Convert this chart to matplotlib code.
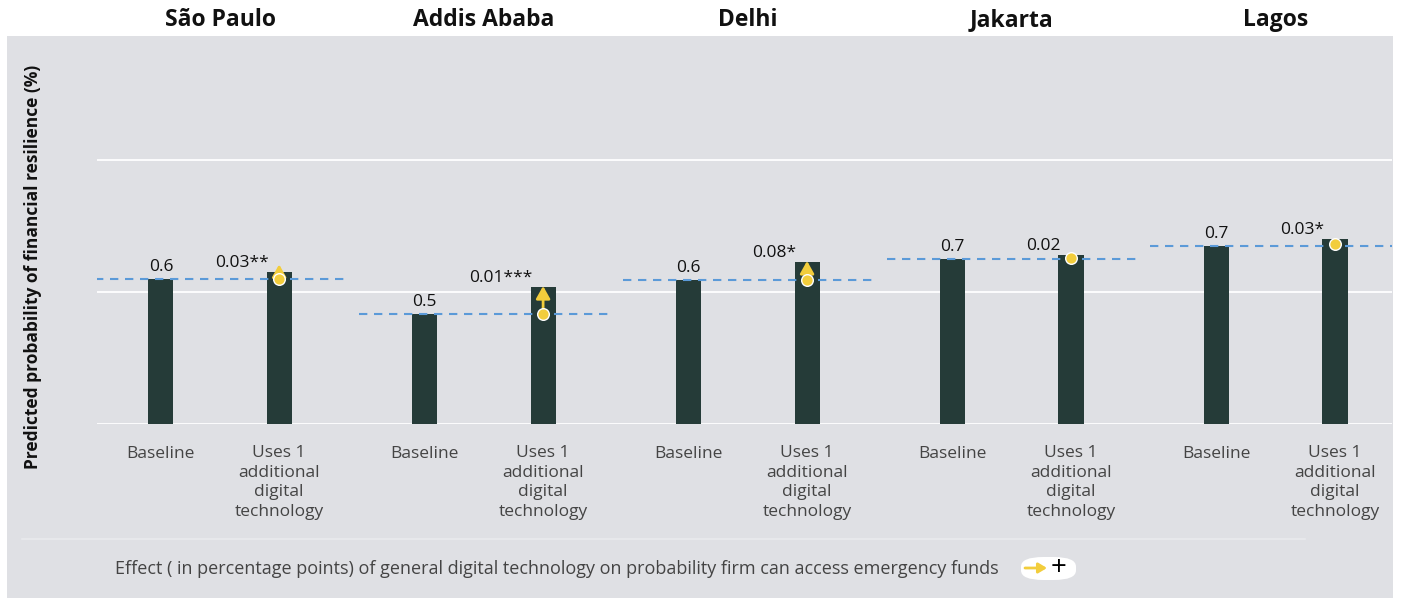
import numpy as np
import matplotlib.pyplot as plt
from matplotlib.patches import Rectangle, FancyBboxPatch
from matplotlib.transforms import blended_transform_factory

plt.rcParams['font.family'] = ['Open Sans', 'DejaVu Sans']

cities = ["São Paulo", "Addis Ababa", "Delhi", "Jakarta", "Lagos"]
baseline = [0.549, 0.417, 0.545, 0.625, 0.674]
with_tech = [0.576, 0.519, 0.614, 0.640, 0.701]
baseline_labels = ["0.6", "0.5", "0.6", "0.7", "0.7"]
effect_labels = ["0.03**", "0.01***", "0.08*", "0.02", "0.03*"]
show_arrow = [True, True, True, False, False]
categories = ["Baseline", "Uses 1\nadditional\ndigital\ntechnology"]

BAR = "#253b38"
PANEL = "#dfe0e4"
DASH = "#5b9ad8"
YELLOW = "#f2cd3c"
TEXT = "#444444"

W, H = 1402, 598
fig = plt.figure(figsize=(W / 100, H / 100), dpi=100)
fig.patch.set_facecolor("white")

# gray panel behind the chart
fig.patches.append(Rectangle((7 / W, 0), 1386 / W, 1 - 36 / H, transform=fig.transFigure,
                             facecolor=PANEL, edgecolor="none", zorder=-2))
# thin separator above footnote
fig.lines.append(plt.Line2D([22 / W, 1305 / W], [1 - 539 / H] * 2, transform=fig.transFigure,
                            color="#e9eaed", lw=1.2, zorder=-1))

ax = fig.add_axes([97 / W, 1 - 424 / H, 1295 / W, (424 - 81) / H])
ax.set_zorder(3)
ax.set_facecolor("none")
ax.set_xlim(-0.466, 4.44)
ax.set_ylim(0, 1.3)
for s in ax.spines.values():
    s.set_visible(False)
ax.set_yticks([])
ax.set_xticks([])
for g in [0, 0.5, 1.0]:
    ax.axhline(g, color="white", lw=1.3, zorder=1)

off = 0.224
bw = 0.095
x = np.arange(len(cities))
ax.bar(x - off, baseline, width=bw, color=BAR, zorder=2)
ax.bar(x + off, with_tech, width=bw, color=BAR, zorder=2)

fs = 12.5
trans_fig_y = blended_transform_factory(ax.transData, fig.transFigure)
for i, city in enumerate(cities):
    ax.plot([i - 0.475, i + 0.475], [baseline[i]] * 2, ls=(0, (4, 3.2)), color=DASH,
            lw=1.5, zorder=3)
    ax.annotate(baseline_labels[i], (i - off, baseline[i]), xytext=(0, 3),
                textcoords="offset points", ha="center", va="bottom", fontsize=fs,
                color="#111111")
    ax.annotate(effect_labels[i], (i + off - 0.04, with_tech[i]), xytext=(0, 1),
                textcoords="offset points", ha="right", va="bottom", fontsize=fs,
                color="#111111")
    if show_arrow[i]:
        tip = max(with_tech[i] + 0.004, baseline[i] + 0.056)
        ax.annotate("", xy=(i + off, tip), xytext=(i + off, baseline[i]),
                    arrowprops=dict(arrowstyle="-|>,head_length=0.75,head_width=0.42",
                                    color=YELLOW, lw=2, shrinkA=0, shrinkB=0), zorder=4)
    ax.scatter([i + off], [baseline[i] + (with_tech[i] - baseline[i]) * (0 if show_arrow[i] else 0.3)],
               s=70, color=YELLOW, edgecolor="white", linewidth=1, zorder=5)
    ax.text(i, 1 - 20 / H, city, transform=trans_fig_y, ha="center", va="center",
            fontsize=16.5, fontweight="bold", color="#111111")
    ax.text(i - off, 1 - 454 / H, categories[0], transform=trans_fig_y, ha="center",
            va="center", fontsize=fs, color=TEXT)
    ax.text(i + off, 1 - 445 / H, categories[1], transform=trans_fig_y, ha="center",
            va="top", fontsize=fs, color=TEXT, linespacing=1.3)

fig.text(33 / W, 1 - 267 / H, "Predicted probability of financial resilience (%)",
         rotation=90, ha="center", va="center", fontsize=12.5, fontweight="bold",
         color="#111111")
fig.text(115 / W, 1 - 569 / H,
         "Effect ( in percentage points) of general digital technology on probability firm can access emergency funds",
         ha="left", va="center", fontsize=13, color=TEXT)

# legend chip: arrow + plus sign
fig.patches.append(FancyBboxPatch((1021 / W, 1 - 580 / H), 55 / W, 23 / H,
                                  boxstyle="round,pad=0,rounding_size=0.016",
                                  transform=fig.transFigure, facecolor="white",
                                  edgecolor="none", zorder=2))
ax.annotate("", xy=(1047 / W, 1 - 568 / H), xytext=(1025 / W, 1 - 568 / H),
            xycoords="figure fraction", textcoords="figure fraction",
            arrowprops=dict(arrowstyle="-|>,head_length=0.5,head_width=0.3", color=YELLOW,
                            lw=2, shrinkA=0, shrinkB=0), zorder=6, annotation_clip=False)
fig.text(1059 / W, 1 - 568 / H, "+", ha="center", va="center", fontsize=20,
         color="black", zorder=7)

fig.savefig("out.png", dpi=100, facecolor="white")
